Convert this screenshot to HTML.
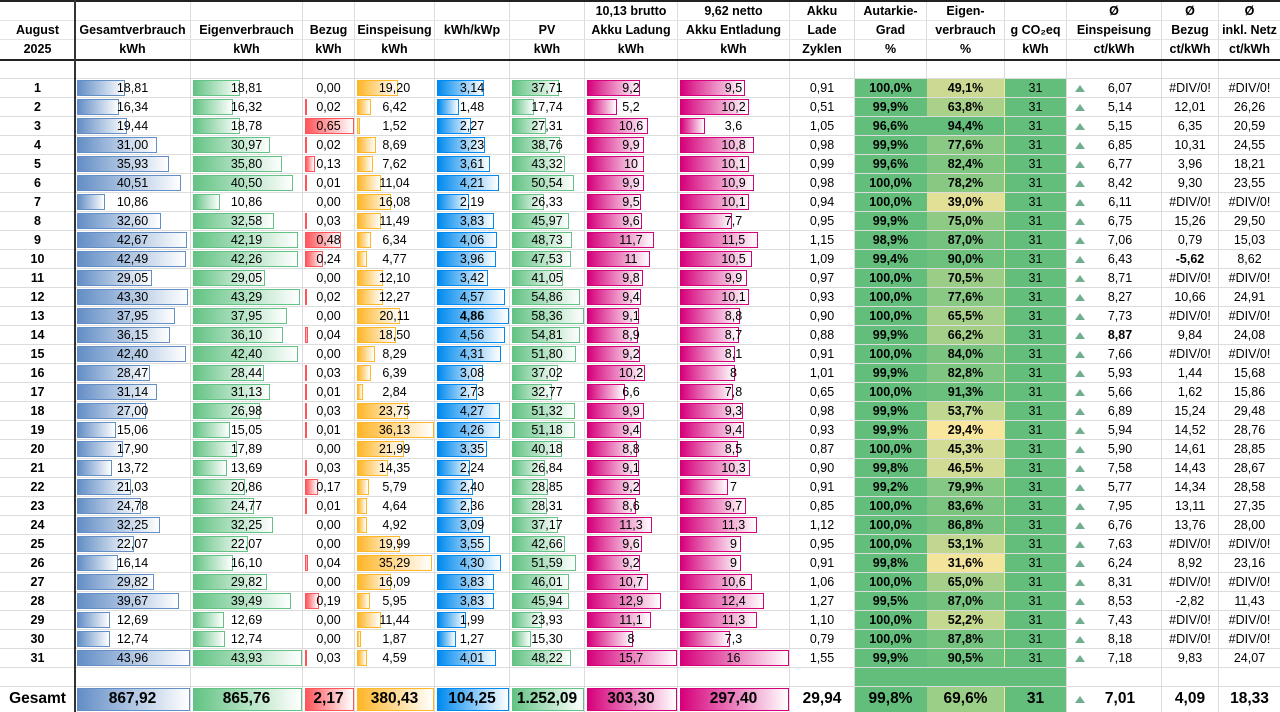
<!DOCTYPE html>
<html><head><meta charset="utf-8">
<style>
html,body{margin:0;padding:0;background:#fff;}
body{width:1280px;height:712px;position:relative;overflow:hidden;font-family:"Liberation Sans",Arial,sans-serif;color:#000;}
.r{position:absolute;left:0;width:1280px;height:19px;display:flex;border-bottom:1px solid #dcdcdc;box-sizing:border-box;}
.c{box-sizing:border-box;border-right:1px solid #dcdcdc;position:relative;z-index:0;text-align:center;line-height:18px;font-size:12.5px;white-space:nowrap;height:100%;}
.A{width:75px;font-weight:bold;border-right:none}
.B{width:116px}.C{width:112px}.D{width:52px}.E{width:80px}.F{width:75px}.G{width:75px}
.H{width:93px}.I{width:112px}.J{width:65px}.K{width:72px;background:#63be7b;font-weight:bold;border-right-color:#63be7b}
.L{width:78px;background:#f8e69c;font-weight:bold;border-right-color:transparent}.M{width:62px;background:#63be7b}
.N{width:95px;padding-left:12px}.O{width:57px}.P{width:61px;border-right:none}
.c[style*="--v"]::before{content:"";position:absolute;left:2px;top:1px;bottom:1px;box-sizing:border-box;z-index:-1;background:linear-gradient(90deg,var(--c),#fff);border:1px solid var(--c);}
.B::before{--c:#638ec6;width:calc(var(--v) * 113px / 43.96)}
.C::before{--c:#63c384;width:calc(var(--v) * 109px / 43.93)}
.D::before{--c:#ff555a;width:calc(var(--v) * 49px / 0.65)}
.E::before{--c:#ffb628;width:calc(var(--v) * 77px / 36.13)}
.F::before{--c:#008aef;width:calc(var(--v) * 72px / 4.86)}
.G::before{--c:#63c384;width:calc(var(--v) * 72px / 58.36)}
.H::before{--c:#d6007b;width:calc(var(--v) * 90px / 15.7)}
.I::before{--c:#d6007b;width:calc(var(--v) * 109px / 16)}
.L::after{content:"";position:absolute;left:0;top:0;right:0;bottom:0;z-index:-1;background:#63be7b;opacity:calc((var(--p) - 29.4) / 65);}
.N::before{content:"";position:absolute;left:8px;top:6px;width:0;height:0;border-left:5px solid transparent;border-right:5px solid transparent;border-bottom:7px solid #70ae8f;}
.bo{font-weight:bold}
.g{height:25px;border-bottom:none}
.g .c{line-height:24px;font-size:15.5px;font-weight:bold}
.g .N::before{top:9px}
.h{position:absolute;left:0;width:1280px;height:19px;display:flex;border-bottom:1px solid #e4e4e4;box-sizing:border-box}
.h .c{font-weight:bold;font-size:12.5px;line-height:18px}
.h .K,.h .L,.h .M{background:none;border-right:1px solid #dcdcdc}
.h .L::after{display:none}
.h .N::before{display:none}
.h .N{padding-left:0}
.e .L::after{opacity:0}
.e .L{background:#63be7b}
.e .N::before{display:none}
</style></head><body>

<div style="position:absolute;left:0;top:0;width:1280px;height:2px;background:#222"></div>
<div class="h" style="top:2px"><div class="c A"></div><div class="c B"></div><div class="c C"></div><div class="c D"></div><div class="c E"></div><div class="c F"></div><div class="c G"></div><div class="c H">10,13 brutto</div><div class="c I">9,62 netto</div><div class="c J">Akku</div><div class="c K">Autarkie-</div><div class="c L">Eigen-</div><div class="c M"></div><div class="c N">Ø</div><div class="c O">Ø</div><div class="c P">Ø</div></div>
<div class="h" style="top:21px"><div class="c A">August</div><div class="c B">Gesamtverbrauch</div><div class="c C">Eigenverbrauch</div><div class="c D">Bezug</div><div class="c E">Einspeisung</div><div class="c F">kWh/kWp</div><div class="c G">PV</div><div class="c H">Akku Ladung</div><div class="c I">Akku Entladung</div><div class="c J">Lade</div><div class="c K">Grad</div><div class="c L">verbrauch</div><div class="c M">g CO₂eq</div><div class="c N">Einspeisung</div><div class="c O">Bezug</div><div class="c P">inkl. Netz</div></div>
<div class="h" style="top:40px;border-bottom:none"><div class="c A">2025</div><div class="c B">kWh</div><div class="c C">kWh</div><div class="c D">kWh</div><div class="c E">kWh</div><div class="c F"></div><div class="c G">kWh</div><div class="c H">kWh</div><div class="c I">kWh</div><div class="c J">Zyklen</div><div class="c K">%</div><div class="c L">%</div><div class="c M">kWh</div><div class="c N">ct/kWh</div><div class="c O">ct/kWh</div><div class="c P">ct/kWh</div></div>
<div style="position:absolute;left:0;top:59px;width:1280px;height:2px;background:#222"></div>

<div class="r" style="top:61px;height:18px"><div class="c A"></div><div class="c B"></div><div class="c C"></div><div class="c D"></div><div class="c E"></div><div class="c F"></div><div class="c G"></div><div class="c H"></div><div class="c I"></div><div class="c J"></div><div class="c" style="width:72px"></div><div class="c" style="width:78px"></div><div class="c" style="width:62px"></div><div class="c" style="width:95px"></div><div class="c O"></div><div class="c P"></div></div>

<div class="r" style="top:79px"><div class="c A">1</div><div class="c B" style="--v:18.81">18,81</div><div class="c C" style="--v:18.81">18,81</div><div class="c D">0,00</div><div class="c E" style="--v:19.20">19,20</div><div class="c F" style="--v:3.14">3,14</div><div class="c G" style="--v:37.71">37,71</div><div class="c H" style="--v:9.2">9,2</div><div class="c I" style="--v:9.5">9,5</div><div class="c J">0,91</div><div class="c K">100,0%</div><div class="c L" style="--p:49.1">49,1%</div><div class="c M">31</div><div class="c N">6,07</div><div class="c O">#DIV/0!</div><div class="c P">#DIV/0!</div></div>
<div class="r" style="top:98px"><div class="c A">2</div><div class="c B" style="--v:16.34">16,34</div><div class="c C" style="--v:16.32">16,32</div><div class="c D" style="--v:0.02">0,02</div><div class="c E" style="--v:6.42">6,42</div><div class="c F" style="--v:1.48">1,48</div><div class="c G" style="--v:17.74">17,74</div><div class="c H" style="--v:5.2">5,2</div><div class="c I" style="--v:10.2">10,2</div><div class="c J">0,51</div><div class="c K">99,9%</div><div class="c L" style="--p:63.8">63,8%</div><div class="c M">31</div><div class="c N">5,14</div><div class="c O">12,01</div><div class="c P">26,26</div></div>
<div class="r" style="top:117px"><div class="c A">3</div><div class="c B" style="--v:19.44">19,44</div><div class="c C" style="--v:18.78">18,78</div><div class="c D" style="--v:0.65">0,65</div><div class="c E" style="--v:1.52">1,52</div><div class="c F" style="--v:2.27">2,27</div><div class="c G" style="--v:27.31">27,31</div><div class="c H" style="--v:10.6">10,6</div><div class="c I" style="--v:3.6">3,6</div><div class="c J">1,05</div><div class="c K">96,6%</div><div class="c L" style="--p:94.4">94,4%</div><div class="c M">31</div><div class="c N">5,15</div><div class="c O">6,35</div><div class="c P">20,59</div></div>
<div class="r" style="top:136px"><div class="c A">4</div><div class="c B" style="--v:31.00">31,00</div><div class="c C" style="--v:30.97">30,97</div><div class="c D" style="--v:0.02">0,02</div><div class="c E" style="--v:8.69">8,69</div><div class="c F" style="--v:3.23">3,23</div><div class="c G" style="--v:38.76">38,76</div><div class="c H" style="--v:9.9">9,9</div><div class="c I" style="--v:10.8">10,8</div><div class="c J">0,98</div><div class="c K">99,9%</div><div class="c L" style="--p:77.6">77,6%</div><div class="c M">31</div><div class="c N">6,85</div><div class="c O">10,31</div><div class="c P">24,55</div></div>
<div class="r" style="top:155px"><div class="c A">5</div><div class="c B" style="--v:35.93">35,93</div><div class="c C" style="--v:35.80">35,80</div><div class="c D" style="--v:0.13">0,13</div><div class="c E" style="--v:7.62">7,62</div><div class="c F" style="--v:3.61">3,61</div><div class="c G" style="--v:43.32">43,32</div><div class="c H" style="--v:10">10</div><div class="c I" style="--v:10.1">10,1</div><div class="c J">0,99</div><div class="c K">99,6%</div><div class="c L" style="--p:82.4">82,4%</div><div class="c M">31</div><div class="c N">6,77</div><div class="c O">3,96</div><div class="c P">18,21</div></div>
<div class="r" style="top:174px"><div class="c A">6</div><div class="c B" style="--v:40.51">40,51</div><div class="c C" style="--v:40.50">40,50</div><div class="c D" style="--v:0.01">0,01</div><div class="c E" style="--v:11.04">11,04</div><div class="c F" style="--v:4.21">4,21</div><div class="c G" style="--v:50.54">50,54</div><div class="c H" style="--v:9.9">9,9</div><div class="c I" style="--v:10.9">10,9</div><div class="c J">0,98</div><div class="c K">100,0%</div><div class="c L" style="--p:78.2">78,2%</div><div class="c M">31</div><div class="c N">8,42</div><div class="c O">9,30</div><div class="c P">23,55</div></div>
<div class="r" style="top:193px"><div class="c A">7</div><div class="c B" style="--v:10.86">10,86</div><div class="c C" style="--v:10.86">10,86</div><div class="c D">0,00</div><div class="c E" style="--v:16.08">16,08</div><div class="c F" style="--v:2.19">2,19</div><div class="c G" style="--v:26.33">26,33</div><div class="c H" style="--v:9.5">9,5</div><div class="c I" style="--v:10.1">10,1</div><div class="c J">0,94</div><div class="c K">100,0%</div><div class="c L" style="--p:39.0">39,0%</div><div class="c M">31</div><div class="c N">6,11</div><div class="c O">#DIV/0!</div><div class="c P">#DIV/0!</div></div>
<div class="r" style="top:212px"><div class="c A">8</div><div class="c B" style="--v:32.60">32,60</div><div class="c C" style="--v:32.58">32,58</div><div class="c D" style="--v:0.03">0,03</div><div class="c E" style="--v:11.49">11,49</div><div class="c F" style="--v:3.83">3,83</div><div class="c G" style="--v:45.97">45,97</div><div class="c H" style="--v:9.6">9,6</div><div class="c I" style="--v:7.7">7,7</div><div class="c J">0,95</div><div class="c K">99,9%</div><div class="c L" style="--p:75.0">75,0%</div><div class="c M">31</div><div class="c N">6,75</div><div class="c O">15,26</div><div class="c P">29,50</div></div>
<div class="r" style="top:231px"><div class="c A">9</div><div class="c B" style="--v:42.67">42,67</div><div class="c C" style="--v:42.19">42,19</div><div class="c D" style="--v:0.48">0,48</div><div class="c E" style="--v:6.34">6,34</div><div class="c F" style="--v:4.06">4,06</div><div class="c G" style="--v:48.73">48,73</div><div class="c H" style="--v:11.7">11,7</div><div class="c I" style="--v:11.5">11,5</div><div class="c J">1,15</div><div class="c K">98,9%</div><div class="c L" style="--p:87.0">87,0%</div><div class="c M">31</div><div class="c N">7,06</div><div class="c O">0,79</div><div class="c P">15,03</div></div>
<div class="r" style="top:250px"><div class="c A">10</div><div class="c B" style="--v:42.49">42,49</div><div class="c C" style="--v:42.26">42,26</div><div class="c D" style="--v:0.24">0,24</div><div class="c E" style="--v:4.77">4,77</div><div class="c F" style="--v:3.96">3,96</div><div class="c G" style="--v:47.53">47,53</div><div class="c H" style="--v:11">11</div><div class="c I" style="--v:10.5">10,5</div><div class="c J">1,09</div><div class="c K">99,4%</div><div class="c L" style="--p:90.0">90,0%</div><div class="c M">31</div><div class="c N">6,43</div><div class="c O bo">-5,62</div><div class="c P">8,62</div></div>
<div class="r" style="top:269px"><div class="c A">11</div><div class="c B" style="--v:29.05">29,05</div><div class="c C" style="--v:29.05">29,05</div><div class="c D">0,00</div><div class="c E" style="--v:12.10">12,10</div><div class="c F" style="--v:3.42">3,42</div><div class="c G" style="--v:41.05">41,05</div><div class="c H" style="--v:9.8">9,8</div><div class="c I" style="--v:9.9">9,9</div><div class="c J">0,97</div><div class="c K">100,0%</div><div class="c L" style="--p:70.5">70,5%</div><div class="c M">31</div><div class="c N">8,71</div><div class="c O">#DIV/0!</div><div class="c P">#DIV/0!</div></div>
<div class="r" style="top:288px"><div class="c A">12</div><div class="c B" style="--v:43.30">43,30</div><div class="c C" style="--v:43.29">43,29</div><div class="c D" style="--v:0.02">0,02</div><div class="c E" style="--v:12.27">12,27</div><div class="c F" style="--v:4.57">4,57</div><div class="c G" style="--v:54.86">54,86</div><div class="c H" style="--v:9.4">9,4</div><div class="c I" style="--v:10.1">10,1</div><div class="c J">0,93</div><div class="c K">100,0%</div><div class="c L" style="--p:77.6">77,6%</div><div class="c M">31</div><div class="c N">8,27</div><div class="c O">10,66</div><div class="c P">24,91</div></div>
<div class="r" style="top:307px"><div class="c A">13</div><div class="c B" style="--v:37.95">37,95</div><div class="c C" style="--v:37.95">37,95</div><div class="c D">0,00</div><div class="c E" style="--v:20.11">20,11</div><div class="c F bo" style="--v:4.86">4,86</div><div class="c G" style="--v:58.36">58,36</div><div class="c H" style="--v:9.1">9,1</div><div class="c I" style="--v:8.8">8,8</div><div class="c J">0,90</div><div class="c K">100,0%</div><div class="c L" style="--p:65.5">65,5%</div><div class="c M">31</div><div class="c N">7,73</div><div class="c O">#DIV/0!</div><div class="c P">#DIV/0!</div></div>
<div class="r" style="top:326px"><div class="c A">14</div><div class="c B" style="--v:36.15">36,15</div><div class="c C" style="--v:36.10">36,10</div><div class="c D" style="--v:0.04">0,04</div><div class="c E" style="--v:18.50">18,50</div><div class="c F" style="--v:4.56">4,56</div><div class="c G" style="--v:54.81">54,81</div><div class="c H" style="--v:8.9">8,9</div><div class="c I" style="--v:8.7">8,7</div><div class="c J">0,88</div><div class="c K">99,9%</div><div class="c L" style="--p:66.2">66,2%</div><div class="c M">31</div><div class="c N bo">8,87</div><div class="c O">9,84</div><div class="c P">24,08</div></div>
<div class="r" style="top:345px"><div class="c A">15</div><div class="c B" style="--v:42.40">42,40</div><div class="c C" style="--v:42.40">42,40</div><div class="c D">0,00</div><div class="c E" style="--v:8.29">8,29</div><div class="c F" style="--v:4.31">4,31</div><div class="c G" style="--v:51.80">51,80</div><div class="c H" style="--v:9.2">9,2</div><div class="c I" style="--v:8.1">8,1</div><div class="c J">0,91</div><div class="c K">100,0%</div><div class="c L" style="--p:84.0">84,0%</div><div class="c M">31</div><div class="c N">7,66</div><div class="c O">#DIV/0!</div><div class="c P">#DIV/0!</div></div>
<div class="r" style="top:364px"><div class="c A">16</div><div class="c B" style="--v:28.47">28,47</div><div class="c C" style="--v:28.44">28,44</div><div class="c D" style="--v:0.03">0,03</div><div class="c E" style="--v:6.39">6,39</div><div class="c F" style="--v:3.08">3,08</div><div class="c G" style="--v:37.02">37,02</div><div class="c H" style="--v:10.2">10,2</div><div class="c I" style="--v:8">8</div><div class="c J">1,01</div><div class="c K">99,9%</div><div class="c L" style="--p:82.8">82,8%</div><div class="c M">31</div><div class="c N">5,93</div><div class="c O">1,44</div><div class="c P">15,68</div></div>
<div class="r" style="top:383px"><div class="c A">17</div><div class="c B" style="--v:31.14">31,14</div><div class="c C" style="--v:31.13">31,13</div><div class="c D" style="--v:0.01">0,01</div><div class="c E" style="--v:2.84">2,84</div><div class="c F" style="--v:2.73">2,73</div><div class="c G" style="--v:32.77">32,77</div><div class="c H" style="--v:6.6">6,6</div><div class="c I" style="--v:7.8">7,8</div><div class="c J">0,65</div><div class="c K">100,0%</div><div class="c L" style="--p:91.3">91,3%</div><div class="c M">31</div><div class="c N">5,66</div><div class="c O">1,62</div><div class="c P">15,86</div></div>
<div class="r" style="top:402px"><div class="c A">18</div><div class="c B" style="--v:27.00">27,00</div><div class="c C" style="--v:26.98">26,98</div><div class="c D" style="--v:0.03">0,03</div><div class="c E" style="--v:23.75">23,75</div><div class="c F" style="--v:4.27">4,27</div><div class="c G" style="--v:51.32">51,32</div><div class="c H" style="--v:9.9">9,9</div><div class="c I" style="--v:9.3">9,3</div><div class="c J">0,98</div><div class="c K">99,9%</div><div class="c L" style="--p:53.7">53,7%</div><div class="c M">31</div><div class="c N">6,89</div><div class="c O">15,24</div><div class="c P">29,48</div></div>
<div class="r" style="top:421px"><div class="c A">19</div><div class="c B" style="--v:15.06">15,06</div><div class="c C" style="--v:15.05">15,05</div><div class="c D" style="--v:0.01">0,01</div><div class="c E" style="--v:36.13">36,13</div><div class="c F" style="--v:4.26">4,26</div><div class="c G" style="--v:51.18">51,18</div><div class="c H" style="--v:9.4">9,4</div><div class="c I" style="--v:9.4">9,4</div><div class="c J">0,93</div><div class="c K">99,9%</div><div class="c L" style="--p:29.4">29,4%</div><div class="c M">31</div><div class="c N">5,94</div><div class="c O">14,52</div><div class="c P">28,76</div></div>
<div class="r" style="top:440px"><div class="c A">20</div><div class="c B" style="--v:17.90">17,90</div><div class="c C" style="--v:17.89">17,89</div><div class="c D">0,00</div><div class="c E" style="--v:21.99">21,99</div><div class="c F" style="--v:3.35">3,35</div><div class="c G" style="--v:40.18">40,18</div><div class="c H" style="--v:8.8">8,8</div><div class="c I" style="--v:8.5">8,5</div><div class="c J">0,87</div><div class="c K">100,0%</div><div class="c L" style="--p:45.3">45,3%</div><div class="c M">31</div><div class="c N">5,90</div><div class="c O">14,61</div><div class="c P">28,85</div></div>
<div class="r" style="top:459px"><div class="c A">21</div><div class="c B" style="--v:13.72">13,72</div><div class="c C" style="--v:13.69">13,69</div><div class="c D" style="--v:0.03">0,03</div><div class="c E" style="--v:14.35">14,35</div><div class="c F" style="--v:2.24">2,24</div><div class="c G" style="--v:26.84">26,84</div><div class="c H" style="--v:9.1">9,1</div><div class="c I" style="--v:10.3">10,3</div><div class="c J">0,90</div><div class="c K">99,8%</div><div class="c L" style="--p:46.5">46,5%</div><div class="c M">31</div><div class="c N">7,58</div><div class="c O">14,43</div><div class="c P">28,67</div></div>
<div class="r" style="top:478px"><div class="c A">22</div><div class="c B" style="--v:21.03">21,03</div><div class="c C" style="--v:20.86">20,86</div><div class="c D" style="--v:0.17">0,17</div><div class="c E" style="--v:5.79">5,79</div><div class="c F" style="--v:2.40">2,40</div><div class="c G" style="--v:28.85">28,85</div><div class="c H" style="--v:9.2">9,2</div><div class="c I" style="--v:7">7</div><div class="c J">0,91</div><div class="c K">99,2%</div><div class="c L" style="--p:79.9">79,9%</div><div class="c M">31</div><div class="c N">5,77</div><div class="c O">14,34</div><div class="c P">28,58</div></div>
<div class="r" style="top:497px"><div class="c A">23</div><div class="c B" style="--v:24.78">24,78</div><div class="c C" style="--v:24.77">24,77</div><div class="c D" style="--v:0.01">0,01</div><div class="c E" style="--v:4.64">4,64</div><div class="c F" style="--v:2.36">2,36</div><div class="c G" style="--v:28.31">28,31</div><div class="c H" style="--v:8.6">8,6</div><div class="c I" style="--v:9.7">9,7</div><div class="c J">0,85</div><div class="c K">100,0%</div><div class="c L" style="--p:83.6">83,6%</div><div class="c M">31</div><div class="c N">7,95</div><div class="c O">13,11</div><div class="c P">27,35</div></div>
<div class="r" style="top:516px"><div class="c A">24</div><div class="c B" style="--v:32.25">32,25</div><div class="c C" style="--v:32.25">32,25</div><div class="c D">0,00</div><div class="c E" style="--v:4.92">4,92</div><div class="c F" style="--v:3.09">3,09</div><div class="c G" style="--v:37.17">37,17</div><div class="c H" style="--v:11.3">11,3</div><div class="c I" style="--v:11.3">11,3</div><div class="c J">1,12</div><div class="c K">100,0%</div><div class="c L" style="--p:86.8">86,8%</div><div class="c M">31</div><div class="c N">6,76</div><div class="c O">13,76</div><div class="c P">28,00</div></div>
<div class="r" style="top:535px"><div class="c A">25</div><div class="c B" style="--v:22.07">22,07</div><div class="c C" style="--v:22.07">22,07</div><div class="c D">0,00</div><div class="c E" style="--v:19.99">19,99</div><div class="c F" style="--v:3.55">3,55</div><div class="c G" style="--v:42.66">42,66</div><div class="c H" style="--v:9.6">9,6</div><div class="c I" style="--v:9">9</div><div class="c J">0,95</div><div class="c K">100,0%</div><div class="c L" style="--p:53.1">53,1%</div><div class="c M">31</div><div class="c N">7,63</div><div class="c O">#DIV/0!</div><div class="c P">#DIV/0!</div></div>
<div class="r" style="top:554px"><div class="c A">26</div><div class="c B" style="--v:16.14">16,14</div><div class="c C" style="--v:16.10">16,10</div><div class="c D" style="--v:0.04">0,04</div><div class="c E" style="--v:35.29">35,29</div><div class="c F" style="--v:4.30">4,30</div><div class="c G" style="--v:51.59">51,59</div><div class="c H" style="--v:9.2">9,2</div><div class="c I" style="--v:9">9</div><div class="c J">0,91</div><div class="c K">99,8%</div><div class="c L" style="--p:31.6">31,6%</div><div class="c M">31</div><div class="c N">6,24</div><div class="c O">8,92</div><div class="c P">23,16</div></div>
<div class="r" style="top:573px"><div class="c A">27</div><div class="c B" style="--v:29.82">29,82</div><div class="c C" style="--v:29.82">29,82</div><div class="c D">0,00</div><div class="c E" style="--v:16.09">16,09</div><div class="c F" style="--v:3.83">3,83</div><div class="c G" style="--v:46.01">46,01</div><div class="c H" style="--v:10.7">10,7</div><div class="c I" style="--v:10.6">10,6</div><div class="c J">1,06</div><div class="c K">100,0%</div><div class="c L" style="--p:65.0">65,0%</div><div class="c M">31</div><div class="c N">8,31</div><div class="c O">#DIV/0!</div><div class="c P">#DIV/0!</div></div>
<div class="r" style="top:592px"><div class="c A">28</div><div class="c B" style="--v:39.67">39,67</div><div class="c C" style="--v:39.49">39,49</div><div class="c D" style="--v:0.19">0,19</div><div class="c E" style="--v:5.95">5,95</div><div class="c F" style="--v:3.83">3,83</div><div class="c G" style="--v:45.94">45,94</div><div class="c H" style="--v:12.9">12,9</div><div class="c I" style="--v:12.4">12,4</div><div class="c J">1,27</div><div class="c K">99,5%</div><div class="c L" style="--p:87.0">87,0%</div><div class="c M">31</div><div class="c N">8,53</div><div class="c O">-2,82</div><div class="c P">11,43</div></div>
<div class="r" style="top:611px"><div class="c A">29</div><div class="c B" style="--v:12.69">12,69</div><div class="c C" style="--v:12.69">12,69</div><div class="c D">0,00</div><div class="c E" style="--v:11.44">11,44</div><div class="c F" style="--v:1.99">1,99</div><div class="c G" style="--v:23.93">23,93</div><div class="c H" style="--v:11.1">11,1</div><div class="c I" style="--v:11.3">11,3</div><div class="c J">1,10</div><div class="c K">100,0%</div><div class="c L" style="--p:52.2">52,2%</div><div class="c M">31</div><div class="c N">7,43</div><div class="c O">#DIV/0!</div><div class="c P">#DIV/0!</div></div>
<div class="r" style="top:630px"><div class="c A">30</div><div class="c B" style="--v:12.74">12,74</div><div class="c C" style="--v:12.74">12,74</div><div class="c D">0,00</div><div class="c E" style="--v:1.87">1,87</div><div class="c F" style="--v:1.27">1,27</div><div class="c G" style="--v:15.30">15,30</div><div class="c H" style="--v:8">8</div><div class="c I" style="--v:7.3">7,3</div><div class="c J">0,79</div><div class="c K">100,0%</div><div class="c L" style="--p:87.8">87,8%</div><div class="c M">31</div><div class="c N">8,18</div><div class="c O">#DIV/0!</div><div class="c P">#DIV/0!</div></div>
<div class="r" style="top:649px"><div class="c A">31</div><div class="c B" style="--v:43.96">43,96</div><div class="c C" style="--v:43.93">43,93</div><div class="c D" style="--v:0.03">0,03</div><div class="c E" style="--v:4.59">4,59</div><div class="c F" style="--v:4.01">4,01</div><div class="c G" style="--v:48.22">48,22</div><div class="c H" style="--v:15.7">15,7</div><div class="c I" style="--v:16">16</div><div class="c J">1,55</div><div class="c K">99,9%</div><div class="c L" style="--p:90.5">90,5%</div><div class="c M">31</div><div class="c N">7,18</div><div class="c O">9,83</div><div class="c P">24,07</div></div>

<div class="r e" style="top:668px"><div class="c A"></div><div class="c B"></div><div class="c C"></div><div class="c D"></div><div class="c E"></div><div class="c F"></div><div class="c G"></div><div class="c H"></div><div class="c I"></div><div class="c J"></div><div class="c K"></div><div class="c L"></div><div class="c M"></div><div class="c N"></div><div class="c O"></div><div class="c P"></div></div>

<div class="r g" style="top:687px"><div class="c A">Gesamt</div><div class="c B" style="--v:43.96">867,92</div><div class="c C" style="--v:43.93">865,76</div><div class="c D" style="--v:0.65">2,17</div><div class="c E" style="--v:36.13">380,43</div><div class="c F" style="--v:4.86">104,25</div><div class="c G" style="--v:58.36">1.252,09</div><div class="c H" style="--v:15.7">303,30</div><div class="c I" style="--v:16">297,40</div><div class="c J">29,94</div><div class="c K">99,8%</div><div class="c L" style="--p:69.6">69,6%</div><div class="c M">31</div><div class="c N">7,01</div><div class="c O">4,09</div><div class="c P">18,33</div></div>

<div style="position:absolute;left:74px;top:0;width:2px;height:712px;background:#333"></div>
</body></html>
